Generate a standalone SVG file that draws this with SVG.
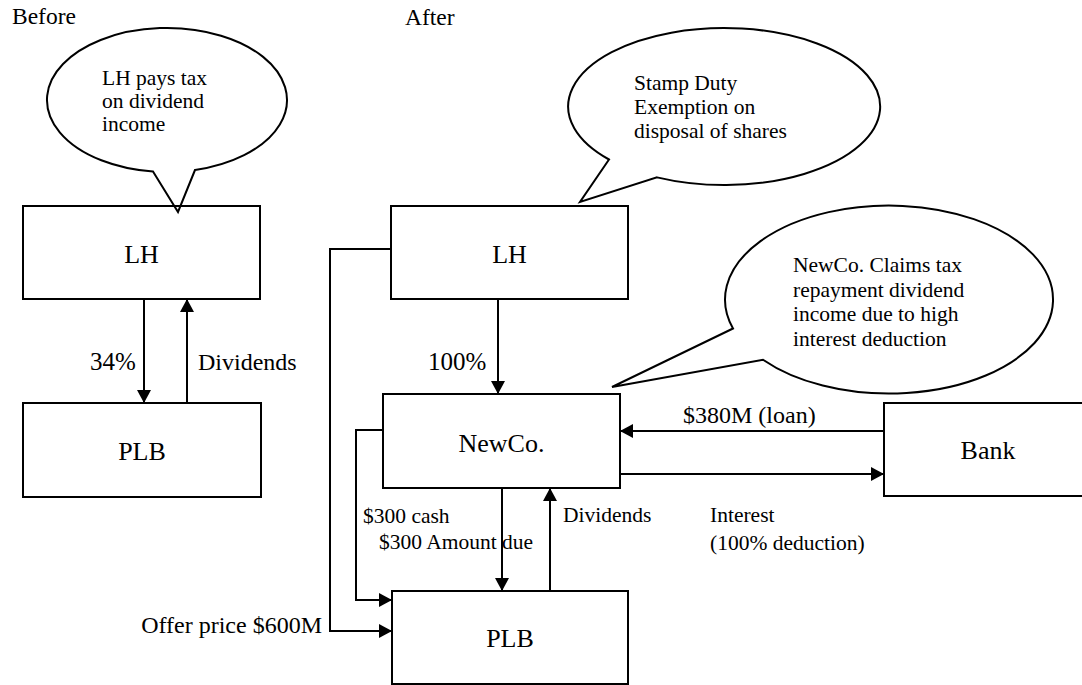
<svg xmlns="http://www.w3.org/2000/svg" width="1082" height="685" viewBox="0 0 1082 685">
  <defs>
    <marker id="arr" markerUnits="userSpaceOnUse" markerWidth="14" markerHeight="14" refX="13" refY="7" orient="auto">
      <path d="M0,0 L13,7 L0,14 Z" fill="#000"/>
    </marker>
    <style>
      text { font-family: "Liberation Serif", "Times New Roman", serif; fill: #000; }
      .box { fill: none; stroke: #000; stroke-width: 2; }
      .bubble { fill: #fff; stroke: #000; stroke-width: 2; stroke-linejoin: miter; }
      .conn { fill: none; stroke: #000; stroke-width: 2; marker-end: url(#arr); }
      .node { font-size: 26px; text-anchor: middle; }
      .note { font-size: 21.5px; }
      .lbl { font-size: 24px; }
      .sm { font-size: 21.5px; }
      .pct { font-size: 25px; }
      .head { font-size: 23.5px; }
    </style>
  </defs>
  <rect width="1082" height="685" fill="#fff"/>

  <text class="head" x="12" y="24">Before</text>
  <text class="head" x="405" y="25">After</text>

  <g id="bubble-before">
    <path class="bubble" d="M153,171.5 L178,212 L195,170 A120,72 0 1 0 153,171.5 Z"/>
    <text class="note" x="102" y="85">LH pays tax</text>
    <text class="note" x="102" y="108">on dividend</text>
    <text class="note" x="102" y="131">income</text>
  </g>

  <g id="bubble-stamp">
    <path class="bubble" d="M609,159.5 L580,202 L657,177.4 A156,78.5 0 1 0 609,159.5 Z"/>
    <text class="note" x="634" y="90">Stamp Duty</text>
    <text class="note" x="634" y="114">Exemption on</text>
    <text class="note" x="634" y="138">disposal of shares</text>
  </g>

  <g id="bubble-newco">
    <path class="bubble" d="M733,328.5 L612,387 L763,359.7 A164,94 0 1 0 733,328.5 Z"/>
    <text class="note" x="793" y="272">NewCo. Claims tax</text>
    <text class="note" x="793" y="296.5">repayment dividend</text>
    <text class="note" x="793" y="321">income due to high</text>
    <text class="note" x="793" y="345.5">interest deduction</text>
  </g>

  <g id="lh-before">
    <rect class="box" x="23" y="206" width="237" height="93"/>
    <text class="node" x="141.5" y="263">LH</text>
  </g>
  <g id="plb-before">
    <rect class="box" x="23" y="403" width="238" height="94"/>
    <text class="node" x="142" y="460">PLB</text>
  </g>
  <g id="lh-after">
    <rect class="box" x="391" y="206" width="237" height="93"/>
    <text class="node" x="509.5" y="263">LH</text>
  </g>
  <g id="newco">
    <rect class="box" x="383" y="394" width="237" height="94"/>
    <text class="node" x="501.5" y="452">NewCo.</text>
  </g>
  <g id="bank">
    <rect class="box" x="884" y="403" width="210" height="93"/>
    <text class="node" x="988" y="459">Bank</text>
  </g>
  <g id="plb-after">
    <rect class="box" x="392" y="591" width="236" height="93"/>
    <text class="node" x="510" y="647">PLB</text>
  </g>

  <g id="connectors">
    <path class="conn" d="M144,299 L144,403"/>
    <path class="conn" d="M187,403 L187,299"/>
    <path class="conn" d="M498,299 L498,394"/>
    <path class="conn" d="M884,431 L620,431"/>
    <path class="conn" d="M620,474 L884,474"/>
    <path class="conn" d="M502,488 L502,591"/>
    <path class="conn" d="M550,591 L550,488"/>
    <path class="conn" d="M383,430 L356,430 L356,600 L392,600"/>
    <path class="conn" d="M391,249 L330,249 L330,631 L392,631"/>
  </g>

  <g id="labels">
    <text class="pct" x="90" y="370">34%</text>
    <text class="lbl" x="198" y="370">Dividends</text>
    <text class="pct" x="428" y="370">100%</text>
    <text class="lbl" x="683" y="423">$380M (loan)</text>
    <text class="sm" x="563" y="522">Dividends</text>
    <text class="sm" x="710" y="522">Interest</text>
    <text class="sm" x="710" y="550">(100% deduction)</text>
    <text class="sm" x="363" y="523">$300 cash</text>
    <text class="sm" x="379" y="549">$300 Amount due</text>
    <text class="lbl" x="322" y="633" text-anchor="end">Offer price $600M</text>
  </g>
</svg>
